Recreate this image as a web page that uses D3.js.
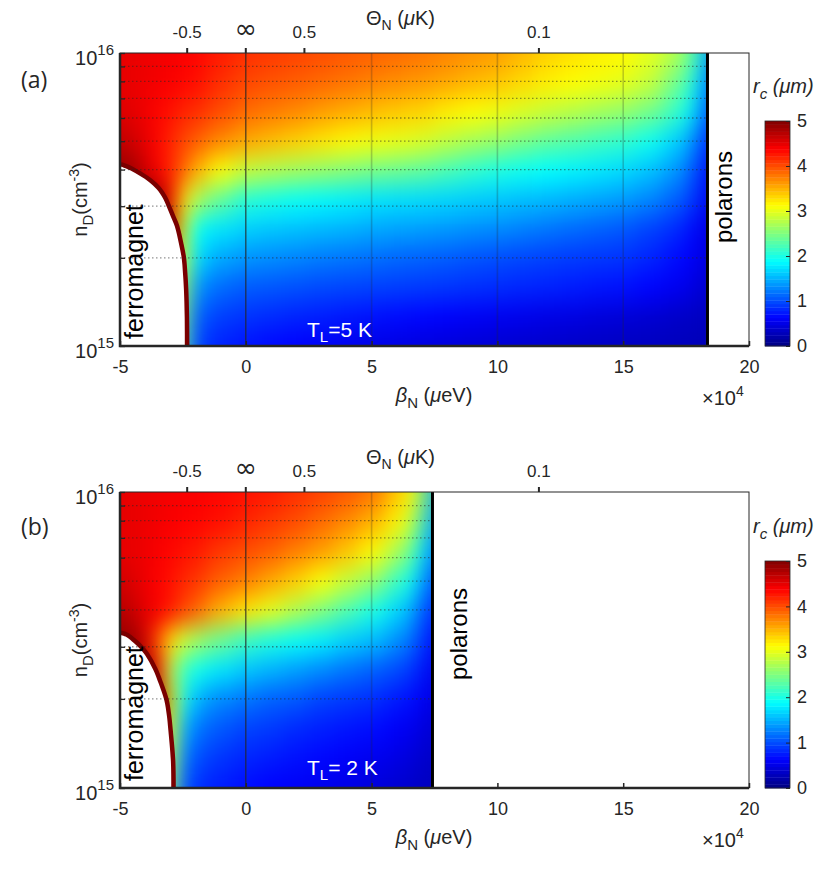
<!DOCTYPE html>
<html>
<head>
<meta charset="utf-8">
<script src="https://cdn.jsdelivr.net/npm/d3@7"></script>
<style>
  body { margin: 0; background: #fff; }
  svg { display: block; font-family: "Liberation Sans", Arial, sans-serif; }
</style>
</head>
<body>
<svg id="chart" width="832" height="869"></svg>
<script>
'use strict';
(function() {
  // ---- data (beta_N in units of 1e4 ueV, n_D in cm^-3, r_c in um) ----
  var betaA = [-5, -4.5, -4, -3.5, -3, -2.5, -2, -1, 0, 1, 2, 3, 4, 5, 6, 7, 8, 9, 10, 11, 12, 13, 14, 15, 16, 17, 17.5, 18, 18.3];
  var betaB = [-5, -4.5, -4, -3.5, -3, -2.5, -2, -1, 0, 1, 2, 3, 4, 5, 6, 6.5, 7, 7.3];
  var nD = [1e15, 1.26e15, 1.58e15, 2e15, 2.51e15, 3.16e15, 3.98e15, 5.01e15, 6.31e15, 7.94e15, 1e16];

  // r_c rows follow nD (bottom row first); null = ferromagnet
  var rcA = [
    [null, null, null, null, null, 2.4, 0.95, 0.78, 0.71, 0.66, 0.62, 0.58, 0.54, 0.5, 0.48, 0.46, 0.44, 0.42, 0.4, 0.38, 0.37, 0.35, 0.34, 0.32, 0.31, 0.3, 0.29, 0.28, 0.27],
    [null, null, null, null, null, 2.6, 1.1, 0.93, 0.87, 0.83, 0.79, 0.76, 0.73, 0.7, 0.67, 0.64, 0.61, 0.58, 0.55, 0.53, 0.5, 0.48, 0.45, 0.43, 0.4, 0.37, 0.35, 0.33, 0.3],
    [null, null, null, null, null, 2.8, 1.35, 1.15, 1.07, 1.04, 1.01, 0.98, 0.96, 0.94, 0.92, 0.9, 0.88, 0.85, 0.83, 0.8, 0.78, 0.75, 0.72, 0.7, 0.64, 0.57, 0.52, 0.45, 0.35],
    [null, null, null, null, null, 3.0, 1.7, 1.45, 1.35, 1.31, 1.27, 1.23, 1.2, 1.17, 1.13, 1.1, 1.07, 1.03, 1.0, 0.97, 0.94, 0.91, 0.89, 0.87, 0.8, 0.7, 0.63, 0.55, 0.4],
    [null, null, null, null, 4.8, 3.0, 1.9, 1.75, 1.65, 1.6, 1.57, 1.53, 1.5, 1.45, 1.42, 1.4, 1.37, 1.33, 1.3, 1.25, 1.2, 1.15, 1.1, 1.05, 0.95, 0.85, 0.75, 0.6, 0.45],
    [null, null, 5.0, 4.9, 4.5, 3.3, 2.7, 2.35, 2.05, 1.97, 1.9, 1.85, 1.8, 1.75, 1.72, 1.7, 1.67, 1.63, 1.6, 1.56, 1.52, 1.48, 1.43, 1.38, 1.28, 1.12, 1.0, 0.8, 0.5],
    [4.9, 4.85, 4.6, 4.4, 4.2, 3.9, 3.5, 3.1, 2.85, 2.75, 2.67, 2.6, 2.52, 2.45, 2.4, 2.33, 2.22, 2.1, 2.0, 1.93, 1.87, 1.82, 1.76, 1.7, 1.58, 1.4, 1.22, 0.95, 0.55],
    [4.7, 4.6, 4.5, 4.35, 4.2, 4.05, 3.9, 3.7, 3.55, 3.45, 3.35, 3.25, 3.15, 3.07, 3.02, 2.95, 2.82, 2.7, 2.6, 2.47, 2.35, 2.27, 2.18, 2.1, 1.95, 1.7, 1.5, 1.2, 0.7],
    [4.55, 4.5, 4.45, 4.35, 4.3, 4.2, 4.15, 4.0, 3.85, 3.77, 3.7, 3.6, 3.52, 3.45, 3.38, 3.32, 3.2, 3.12, 3.05, 2.95, 2.85, 2.77, 2.68, 2.6, 2.45, 2.2, 1.95, 1.55, 0.9],
    [4.5, 4.48, 4.45, 4.42, 4.4, 4.35, 4.3, 4.15, 4.03, 3.97, 3.92, 3.86, 3.8, 3.74, 3.68, 3.62, 3.55, 3.47, 3.4, 3.3, 3.2, 3.13, 3.07, 3.0, 2.85, 2.5, 2.25, 1.8, 1.0],
    [4.5, 4.48, 4.46, 4.44, 4.42, 4.4, 4.35, 4.25, 4.15, 4.1, 4.05, 4.0, 3.95, 3.9, 3.85, 3.8, 3.73, 3.66, 3.6, 3.48, 3.35, 3.27, 3.2, 3.15, 3.0, 2.8, 2.55, 2.1, 1.2]
  ];
  var rcB = [
    [null, null, null, null, 2.7, 1.1, 0.85, 0.75, 0.68, 0.62, 0.58, 0.53, 0.5, 0.45, 0.4, 0.37, 0.33, 0.3],
    [null, null, null, null, 2.9, 1.3, 1.0, 0.88, 0.8, 0.75, 0.7, 0.65, 0.6, 0.55, 0.5, 0.45, 0.4, 0.33],
    [null, null, null, null, 3.2, 1.55, 1.2, 1.05, 0.95, 0.9, 0.82, 0.77, 0.72, 0.68, 0.6, 0.55, 0.48, 0.38],
    [null, null, null, 5.0, 3.3, 2.0, 1.5, 1.3, 1.2, 1.1, 1.05, 0.95, 0.9, 0.85, 0.75, 0.7, 0.6, 0.45],
    [null, null, 5.0, 4.4, 2.8, 2.2, 1.95, 1.75, 1.6, 1.5, 1.4, 1.3, 1.2, 1.1, 1.0, 0.9, 0.75, 0.5],
    [4.9, 4.9, 4.6, 4.0, 3.3, 2.9, 2.65, 2.4, 2.15, 2.0, 1.9, 1.8, 1.65, 1.55, 1.35, 1.2, 0.95, 0.6],
    [4.75, 4.65, 4.5, 4.4, 4.25, 4.05, 3.85, 3.5, 3.25, 3.0, 2.75, 2.5, 2.25, 2.0, 1.7, 1.5, 1.15, 0.75],
    [4.6, 4.55, 4.45, 4.38, 4.3, 4.2, 4.1, 3.9, 3.75, 3.55, 3.35, 3.1, 2.85, 2.6, 2.2, 1.95, 1.5, 0.9],
    [4.5, 4.48, 4.45, 4.4, 4.35, 4.3, 4.25, 4.1, 4.0, 3.9, 3.75, 3.6, 3.4, 3.15, 2.75, 2.45, 1.9, 1.1],
    [4.5, 4.48, 4.46, 4.43, 4.4, 4.38, 4.35, 4.3, 4.2, 4.1, 4.0, 3.85, 3.7, 3.5, 3.2, 2.9, 2.3, 1.3],
    [4.5, 4.48, 4.46, 4.44, 4.42, 4.41, 4.4, 4.35, 4.3, 4.25, 4.15, 4.05, 3.95, 3.8, 3.45, 3.2, 2.7, 1.4]
  ];

  // ferromagnet boundary (top -> bottom)
  var ferroBetaA = [-5, -4.6, -4.2, -3.85, -3.54, -3.3, -3.15, -2.97, -2.82, -2.66, -2.55, -2.5, -2.46, -2.43, -2.42];
  var ferroNdA = [4.11e15, 3.98e15, 3.8e15, 3.63e15, 3.43e15, 3.2e15, 3e15, 2.75e15, 2.56e15, 2.24e15, 2e15, 1.78e15, 1.56e15, 1.26e15, 1e15];
  var ferroBetaB = [-5, -4.75, -4.45, -4.2, -4.0, -3.68, -3.45, -3.24, -3.14, -3.08, -2.98, -2.96];
  var ferroNdB = [3.29e15, 3.24e15, 3.09e15, 2.95e15, 2.81e15, 2.51e15, 2.24e15, 1.98e15, 1.76e15, 1.57e15, 1.24e15, 1e15];

  // polaron threshold in beta_N
  var polaronA = 18.29;
  var polaronB = 7.36;

  // ticks
  var xTicks = [-5, 0, 5, 10, 15, 20];
  var nDGrid = [2e15, 3e15, 4e15, 5e15, 6e15, 7e15, 8e15, 9e15];
  var nDLabels = [[1e15, '15'], [1e16, '16']];
  var thetaTicks = [-0.5, 0.5, 0.1];
  var rcTicks = [0, 1, 2, 3, 4, 5];
  var vGrid = [0, 5, 10, 15];

  // Theta_N = C / beta_N (uK * 1e4 ueV)
  var C = 1.165;

  var left = 120, right = 749;
  var cbX = 765, cbW = 25;
  var INK = '#262626';
  var FONT = '"Liberation Sans", Arial, sans-serif';

  var panels = [
    { key: 'a', beta: betaA, rc: rcA, fb: ferroBetaA, fn: ferroNdA, pol: polaronA,
      top: 53, bottom: 346, cbTop: 121, label: '(a)', labelY: 88,
      temp: '=5 K', tempY: 337, polX: 732, polY: 243 },
    { key: 'b', beta: betaB, rc: rcB, fb: ferroBetaB, fn: ferroNdB, pol: polaronB,
      top: 492, bottom: 788, cbTop: 561, label: '(b)', labelY: 535,
      temp: '= 2 K', tempY: 775, polX: 467, polY: 680 }
  ];

  // MATLAB jet
  var jet = d3.scaleLinear()
    .domain([0, 0.625, 1.875, 3.125, 4.375, 5])
    .range(['#000080', '#0000ff', '#00ffff', '#ffff00', '#ff0000', '#800000'])
    .interpolate(d3.interpolateRgb)
    .clamp(true);

  var svg = d3.select('#chart');
  var defs = svg.append('defs');

  // cell edges from pixel centres
  var cellEdges = function(px) {
    return px.map(function(c, i) {
      var lo = i > 0 ? (px[i - 1] + c) / 2 : c - (px[1] - c) / 2;
      var hi = i < px.length - 1 ? (px[i + 1] + c) / 2 : c + (c - px[i - 1]) / 2;
      return [Math.min(lo, hi), Math.max(lo, hi)];
    });
  };

  var plainNum = function(d) { return String(d); };

  panels.forEach(function(p) {
    var x = d3.scaleLinear().domain([-5, 20]).range([left, right]);
    var y = d3.scaleLog().domain([1e15, 1e16]).range([p.bottom, p.top]);
    var h = p.bottom - p.top;

    defs.append('clipPath').attr('id', 'clip-' + p.key)
      .append('rect')
      .attr('x', left).attr('y', p.top)
      .attr('width', right - left).attr('height', h);

    // soften the cell grid into a smooth field
    var filter = defs.append('filter').attr('id', 'smooth-' + p.key)
      .attr('filterUnits', 'userSpaceOnUse')
      .attr('x', left - 60).attr('y', p.top - 60)
      .attr('width', right - left + 120).attr('height', h + 120)
      .attr('color-interpolation-filters', 'sRGB');
    filter.append('feGaussianBlur').attr('stdDeviation', '9 12');
    filter.append('feComponentTransfer')
      .append('feFuncA').attr('type', 'table').attr('tableValues', '0 1 1 1 1 1 1 1 1 1');

    var xe = cellEdges(p.beta.map(function(b) { return x(b); }));
    var ye = cellEdges(nD.map(function(n) { return y(n); }));

    var cells = [];
    p.rc.forEach(function(row, i) {
      row.forEach(function(v, j) {
        if (v !== null) cells.push({ i: i, j: j, v: v });
      });
    });

    var plot = svg.append('g').attr('clip-path', 'url(#clip-' + p.key + ')');

    // heat map cells
    plot.append('g')
      .attr('filter', 'url(#smooth-' + p.key + ')')
      .selectAll('rect')
      .data(cells)
      .enter()
      .append('rect')
      .attr('x', function(d) { return xe[d.j][0]; })
      .attr('width', function(d) { return xe[d.j][1] - xe[d.j][0] + 0.5; })
      .attr('y', function(d) { return ye[d.i][0]; })
      .attr('height', function(d) { return ye[d.i][1] - ye[d.i][0] + 0.5; })
      .attr('fill', function(d) { return jet(d.v); });

    // ferromagnet region: dark red rim, white inside
    var pts = p.fb.map(function(b, i) { return [x(b), y(p.fn[i])]; });
    var line = d3.line().curve(d3.curveCatmullRom);
    plot.append('path')
      .attr('d', line(pts))
      .attr('fill', 'none')
      .attr('stroke', '#7a0000')
      .attr('stroke-width', 9);
    plot.append('path')
      .attr('d', line(pts) + 'L' + (left - 10) + ',' + (p.bottom + 10) + 'L' + (left - 10) + ',' + pts[0][1] + 'Z')
      .attr('fill', '#fff');

    // dotted horizontal grid
    plot.append('g').selectAll('line')
      .data(nDGrid)
      .enter()
      .append('line')
      .attr('x1', left).attr('x2', x(p.pol))
      .attr('y1', function(d) { return y(d); })
      .attr('y2', function(d) { return y(d); })
      .attr('stroke', INK)
      .attr('stroke-opacity', 0.5)
      .attr('stroke-width', 1.3)
      .attr('stroke-dasharray', '1.5,2.5');

    // vertical grid
    plot.append('g').selectAll('line')
      .data(vGrid)
      .enter()
      .append('line')
      .attr('x1', function(d) { return x(d); })
      .attr('x2', function(d) { return x(d); })
      .attr('y1', p.top).attr('y2', p.bottom)
      .attr('stroke', INK)
      .attr('stroke-width', function(d) { return d === 0 ? 1.3 : 1.6; })
      .attr('stroke-opacity', function(d) { return d === 0 ? 0.8 : 0.24; });

    // polaron region
    plot.append('rect')
      .attr('x', x(p.pol)).attr('y', p.top)
      .attr('width', right - x(p.pol)).attr('height', h)
      .attr('fill', '#fff');
    plot.append('line')
      .attr('x1', x(p.pol) + 1.5).attr('x2', x(p.pol) + 1.5)
      .attr('y1', p.top).attr('y2', p.bottom)
      .attr('stroke', '#000').attr('stroke-width', 3);

    // bottom axis
    var xAxis = d3.axisBottom(x)
      .tickValues(xTicks)
      .tickFormat(plainNum)
      .tickSizeInner(-5)
      .tickSizeOuter(0)
      .tickPadding(14);
    var gx = svg.append('g')
      .attr('transform', 'translate(0,' + p.bottom + ')')
      .call(xAxis);
    gx.select('.domain').remove();
    gx.selectAll('line').attr('stroke', INK).attr('stroke-width', 1.5);
    gx.selectAll('text').attr('fill', INK).attr('font-size', 18).attr('font-family', FONT);

    // left axis minor ticks
    var yAxis = d3.axisLeft(y)
      .tickValues([1e15].concat(nDGrid, [1e16]))
      .tickSizeInner(-5)
      .tickSizeOuter(0)
      .tickFormat('');
    var gy = svg.append('g')
      .attr('transform', 'translate(' + left + ',0)')
      .call(yAxis);
    gy.select('.domain').remove();
    gy.selectAll('line').attr('stroke', INK).attr('stroke-width', 1.3);

    nDLabels.forEach(function(t) {
      var txt = svg.append('text')
        .attr('x', left - 6)
        .attr('y', y(t[0]) + 12)
        .attr('text-anchor', 'end')
        .attr('fill', INK)
        .attr('font-size', 20);
      txt.append('tspan').text('10');
      txt.append('tspan').attr('dy', -10).attr('font-size', 15).text(t[1]);
    });

    // box
    svg.append('rect')
      .attr('x', left).attr('y', p.top)
      .attr('width', right - left).attr('height', h)
      .attr('fill', 'none').attr('stroke', INK).attr('stroke-width', 1);
    svg.append('path')
      .attr('d', 'M' + left + ',' + p.top + 'V' + p.bottom + 'H' + right)
      .attr('fill', 'none').attr('stroke', INK).attr('stroke-width', 2.5);

    // top Theta axis
    var thetaPos = [{ b: 0, t: '\u221e' }].concat(thetaTicks.map(function(t) {
      return { b: C / t, t: String(t) };
    }));
    var gt = svg.append('g');
    gt.selectAll('line')
      .data(thetaPos)
      .enter()
      .append('line')
      .attr('x1', function(d) { return x(d.b); })
      .attr('x2', function(d) { return x(d.b); })
      .attr('y1', p.top - 5).attr('y2', p.top)
      .attr('stroke', INK).attr('stroke-width', 2);
    gt.selectAll('text')
      .data(thetaPos)
      .enter()
      .append('text')
      .attr('x', function(d) { return x(d.b); })
      .attr('y', p.top - 15)
      .attr('text-anchor', 'middle')
      .attr('fill', INK)
      .attr('font-size', function(d) { return d.b === 0 ? 27 : 17; })
      .attr('font-family', function(d) { return d.b === 0 ? '"DejaVu Sans", sans-serif' : null; })
      .text(function(d) { return d.t; });

    var tl = svg.append('text')
      .attr('x', 366).attr('y', p.top - 28)
      .attr('fill', INK).attr('font-size', 20);
    tl.append('tspan').text('\u0398');
    tl.append('tspan').attr('dy', 5).attr('font-size', 14).text('N');
    tl.append('tspan').attr('dy', -5).text(' (');
    tl.append('tspan').attr('font-style', 'italic').text('\u03bc');
    tl.append('tspan').text('K)');

    // x label
    var xl = svg.append('text')
      .attr('x', 434).attr('y', p.bottom + 56)
      .attr('text-anchor', 'middle')
      .attr('fill', INK).attr('font-size', 20);
    xl.append('tspan').attr('font-style', 'italic').text('\u03b2');
    xl.append('tspan').attr('dy', 6).attr('font-size', 15).text('N');
    xl.append('tspan').attr('dy', -6).text(' (');
    xl.append('tspan').attr('font-style', 'italic').text('\u03bc');
    xl.append('tspan').text('eV)');

    var mult = svg.append('text')
      .attr('x', 702).attr('y', p.bottom + 59)
      .attr('fill', INK).attr('font-size', 20);
    mult.append('tspan').text('\u00d710');
    mult.append('tspan').attr('dy', -9).attr('font-size', 14).text('4');

    // y label
    var yl = svg.append('text')
      .attr('transform', 'translate(87,' + ((p.top + p.bottom) / 2) + ') rotate(-90)')
      .attr('text-anchor', 'middle')
      .attr('fill', INK).attr('font-size', 20);
    yl.append('tspan').text('n');
    yl.append('tspan').attr('dy', 6).attr('font-size', 15).text('D');
    yl.append('tspan').attr('dy', -6).text('(cm');
    yl.append('tspan').attr('dy', -8).attr('font-size', 14).text('-3');
    yl.append('tspan').attr('dy', 8).text(')');

    // panel label
    svg.append('text')
      .attr('x', 21).attr('y', p.labelY)
      .attr('fill', INK)
      .attr('font-family', '"Open Sans", sans-serif')
      .attr('font-size', 23)
      .text(p.label);

    // region labels
    svg.append('text')
      .attr('transform', 'translate(143,' + (p.bottom - 7) + ') rotate(-90)')
      .attr('fill', '#000').attr('font-size', 25)
      .text('ferromagnet');
    svg.append('text')
      .attr('transform', 'translate(' + p.polX + ',' + p.polY + ') rotate(-90)')
      .attr('fill', '#000').attr('font-size', 24)
      .text('polarons');

    var tt = svg.append('text')
      .attr('x', 307).attr('y', p.tempY)
      .attr('fill', '#fff').attr('font-size', 21);
    tt.append('tspan').text('T');
    tt.append('tspan').attr('dy', 5).attr('font-size', 15).text('L');
    tt.append('tspan').attr('dy', -5).text(p.temp);

    // colorbar
    var cy = d3.scaleLinear().domain([0, 5]).range([p.bottom, p.cbTop]);
    var steps = d3.range(64);
    svg.append('g').selectAll('rect')
      .data(steps)
      .enter()
      .append('rect')
      .attr('x', cbX)
      .attr('width', cbW)
      .attr('y', function(d) { return cy((d + 1) * 5 / 64); })
      .attr('height', function(d) { return cy(d * 5 / 64) - cy((d + 1) * 5 / 64) + 0.4; })
      .attr('fill', function(d) { return jet((d + 0.5) * 5 / 64); });
    svg.append('rect')
      .attr('x', cbX).attr('y', p.cbTop)
      .attr('width', cbW).attr('height', p.bottom - p.cbTop)
      .attr('fill', 'none').attr('stroke', INK).attr('stroke-width', 0.8);
    var cAxis = d3.axisRight(cy)
      .tickValues(rcTicks)
      .tickFormat(plainNum)
      .tickSizeInner(-4)
      .tickSizeOuter(0)
      .tickPadding(7);
    var gc = svg.append('g')
      .attr('transform', 'translate(' + (cbX + cbW) + ',0)')
      .call(cAxis);
    gc.select('.domain').remove();
    gc.selectAll('line').attr('stroke', INK);
    gc.selectAll('text').attr('fill', INK).attr('font-size', 18).attr('font-family', FONT);

    var ct = svg.append('text')
      .attr('x', 753).attr('y', p.cbTop - 28)
      .attr('fill', INK).attr('font-size', 20).attr('font-style', 'italic');
    ct.append('tspan').text('r');
    ct.append('tspan').attr('dy', 6).attr('font-size', 15).text('c');
    ct.append('tspan').attr('dy', -6).text(' (\u03bcm)');
  });
})();
</script>
</body>
</html>
